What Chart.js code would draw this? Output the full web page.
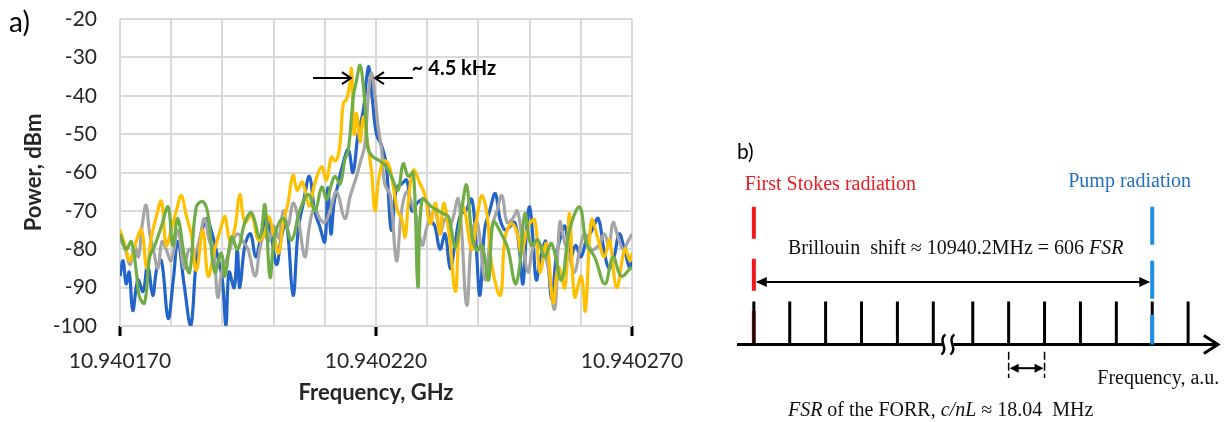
<!DOCTYPE html>
<html><head><meta charset="utf-8">
<script src="https://cdn.jsdelivr.net/npm/chart.js@4.4.0/dist/chart.umd.min.js"></script>
<style>
html,body{margin:0;padding:0;background:#fff;}
#wrap{position:relative;width:1224px;height:422px;overflow:hidden;background:#fff;}
#ca{position:absolute;left:0;top:0;}
#cb{position:absolute;left:700px;top:0;}
</style></head><body>
<div id="wrap">
<canvas id="ca" width="700" height="422"></canvas>
<canvas id="cb" width="524" height="422"></canvas>
</div>
<script>
// ---------- Panel a data (frequency offset in kHz from 10.940170 GHz, power in dBm) ----------
const xLabelKHz = [0, 50, 100];
const xTickLabels = ['10.940170', '10.940220', '10.940270'];
const yTitle = 'Power, dBm';
const xTitle = 'Frequency, GHz';

const blueFreq = [0,0.6,1.2,1.8,2.5,3.5,4.5,5.4,6.4,7.2,8.1,9.4,10.4,11.3,12.5,13.8,14.9,15.9,16.9,18,19.1,20,20.7,21.3,22.3,22.9,23.4,24.4,25.5,26.5,27.5,28.6,29.6,30.6,31.5,32.5,33.8,34.8,35.8,37,38,39,40,40.6,41.2,41.8,42.6,43.5,44.6,45.5,46.5,47.5,48.2,48.6,49.3,50.1,51.1,52,53,54,55,56,57,58,59.6,60.5,61.5,62.5,63.5,64.5,65.5,66.5,67.5,68.7,69.5,70.3,71.2,72.2,73.3,74.2,75.2,76.2,77.1,78,78.7,79.4,80,80.7,81.3,82.2,83.2,84.3,85.2,86,86.9,88,89,90,91,92.2,93.4,94.5,95.5,96.5,97.5,98.5,99.6,100];
const bluePower = [-87,-83,-89,-86,-96,-88,-91,-84,-92,-85,-83,-98,-88,-78,-89,-100,-83,-76,-72,-76,-82,-88,-100,-86,-90,-80,-90,-79,-76,-82,-77,-72,-77,-84,-77,-73,-92,-75,-68,-61,-70,-74,-78,-64,-76,-68,-63,-58,-54,-60,-50,-44,-35,-32.5,-41,-50,-53,-58,-75,-64,-63,-62,-70,-68,-67,-72,-74,-80,-76,-85,-78,-71,-70,-67,-78,-92,-75,-70,-65.5,-72,-75,-74,-73,-80,-89,-75,-69,-78,-88,-82,-78,-93,-82,-77,-74,-82,-79,-82,-78,-75,-72,-80,-85,-82,-76,-80,-85,-82];

const grayFreq = [0,1,2,2.8,3.6,4.3,5.1,5.8,6.5,7.4,8.2,9,10,11.3,12.5,13.5,14.6,15.6,16.5,17.5,18.3,19.1,20,21,22,23,24,25,26.4,27.3,28.2,29,30,31,31.9,32.8,33.8,34.8,36.1,37,38,39,40,41,42.3,43.9,45,46.2,47,47.8,48.5,49.1,49.8,50.4,51.1,51.7,52.8,54,55,56,57,58,59,60,61.5,62.5,63.5,64.5,66.1,67.7,68.8,69.8,71.3,72.5,73.6,74.6,75.6,76.7,77.6,78.6,79.7,80.6,81.6,82.5,83.5,84.9,85.9,86.8,87.8,88.8,89.8,90.8,92,93.5,94.6,95.5,96.3,97.3,98.3,99.2,100];
const grayPower = [-77,-80,-84,-79,-82,-74,-68.5,-76,-80,-85,-78,-80,-83,-75,-85,-80,-81,-77,-72,-78,-80,-92.5,-85,-82,-78,-76,-78,-80,-87,-80,-76,-78,-74,-77,-70,-74,-68,-72,-82,-74,-69,-72,-73,-70,-65,-72,-66,-61,-57,-53,-40,-34,-40,-48,-54,-63,-66,-83,-70,-65,-68,-72,-79,-74,-70,-76,-72,-74,-67,-94.5,-75,-73,-88,-75,-70,-66,-73,-72,-70,-78,-86,-80,-78,-80,-84,-95.5,-73,-78,-82,-86,-80,-76,-80,-79,-76,-79,-73,-77,-80,-78,-76];

const yellowFreq = [0,1,1.9,2.9,4.2,5.2,6.1,7,8.1,9,10,11,12,12.9,13.9,14.9,16.2,17.2,18.5,19.8,20.5,21.5,22.5,23.4,24.4,25.7,27,28.2,29,30,31,31.9,32.8,33.8,34.6,35.6,37,38,39.4,40.3,41.3,42,42.7,43.2,43.6,44.2,44.8,45.2,45.7,46.2,46.9,47.5,48.2,49.1,49.8,50.5,51.5,52.5,53.3,54.2,55,55.7,56.3,57.3,58.6,59.6,60.6,61.6,62.5,63.2,64.2,65.5,66.2,67.1,68.7,69.8,70.7,71.7,72.6,74.3,75.2,76.5,77.6,78.4,79.7,81,82,83.3,84.6,85.6,86.9,87.8,88.8,90.1,90.9,92.1,93.5,94.6,95.6,97,98.6,99.6,100];
const yellowPower = [-75,-79,-83,-79,-75,-85,-77,-72,-67.5,-79,-75,-70,-66,-71,-76,-85.5,-75,-87,-80,-74,-71.5,-78,-74,-65.7,-73,-71,-77.6,-76,-71.5,-76,-81,-73,-68,-60.7,-64.6,-62.5,-68.8,-63,-58.5,-62,-56,-57,-55,-49,-42,-41,-37.7,-33,-50,-44.6,-52,-45.5,-51,-59.4,-70,-62,-57,-58,-63,-70,-72,-76.8,-68,-59.4,-62.9,-66,-73.3,-68,-76,-68,-75,-91,-76,-69,-80,-71,-66,-71,-84,-92,-77,-73.3,-76,-81,-74,-72.4,-86,-78.5,-94,-84.6,-90,-70.7,-92.4,-87,-96,-72.4,-78,-82,-77.6,-90,-80,-83,-81];

const greenFreq = [0,1.2,2.2,3.2,3.8,4.8,5.8,6.8,8.1,9.4,10.3,11.3,12.6,13.6,14.9,16.2,17.2,18.5,19.8,20.5,21.8,23,24.4,25.7,27.3,28.3,29.3,30.3,31.9,33.5,35.1,36.8,38.1,39.4,40.4,41.3,42,43,43.9,44.6,45.6,46.2,46.9,47.5,48,48.5,49.5,50.8,52,53,54.3,55.3,56.3,57.3,58.2,59,60.9,62.2,63.5,64.2,65.5,66.8,67.7,68.7,69.7,70.7,72,72.9,74.5,75.8,77.2,78.1,79.1,80.3,81.6,82.9,84.3,86.2,87.8,89.8,91.1,92.7,94.7,96.3,97.9,99.9];
const greenPower = [-76,-80,-78,-86,-92.4,-94,-82,-79,-74,-69,-79,-72,-82,-86,-69,-67.6,-71,-86,-81,-87,-76.8,-80,-73,-70.5,-77,-68.4,-87.3,-76,-72,-77.6,-70,-65.7,-70,-63.8,-67,-63,-61,-63,-56.8,-54,-40,-36,-32,-37,-45.5,-54,-56,-57,-58.5,-61,-64.6,-57.7,-61,-60,-89.8,-67,-69,-70,-71,-71.6,-79.4,-69,-63.3,-76,-80.3,-79,-88,-73,-76,-80,-89,-84,-70.7,-79,-77.6,-82,-78.5,-88,-75,-69,-78.5,-82,-89,-82,-87,-84.6];

// ---------- Panel b data (schematic, frequency in FSR units, height in a.u.) ----------
const combPos = [0,1,2,3,4,5,6.1,7.1,8.1,9.1,10.1,11.1,12.1];
const combHeight = 1;
const stokesPos = 0;
const pumpPos = 11.1;
const radiationHeight = 3.2;
const fsrPair = [7.1, 8.1];

function pts(xs, ys){ const n = Math.min(xs.length, ys.length); const o=[]; for(let i=0;i<n;i++) o.push({x:xs[i], y:ys[i]}); return o; }

Chart.defaults.font.family = 'Lato';

function lineDs(label, xs, ys, color){
  return {label, data: pts(xs, ys), borderColor: color, backgroundColor: color, borderWidth: 3.2,
          pointRadius: 0, tension: 0.4, fill: false};
}

function arrowOpen(ctx, tipX, tipY, dir, len, half){
  ctx.beginPath();
  ctx.moveTo(tipX - dir*len, tipY - half);
  ctx.lineTo(tipX, tipY);
  ctx.lineTo(tipX - dir*len, tipY + half);
  ctx.stroke();
}
function arrowFilled(ctx, tipX, tipY, dir, len, half){
  ctx.beginPath();
  ctx.moveTo(tipX, tipY);
  ctx.lineTo(tipX - dir*len, tipY - half);
  ctx.lineTo(tipX - dir*len, tipY + half);
  ctx.closePath();
  ctx.fill();
}

const annotA = {
  id: 'annotA',
  afterDraw(chart){
    const {ctx, chartArea} = chart; const x = chart.scales.x, y = chart.scales.y;
    ctx.save();
    ctx.fillStyle = '#000'; ctx.strokeStyle = '#000';
    ctx.font = '28px Lato'; ctx.textAlign = 'left'; ctx.textBaseline = 'middle';
    ctx.fillText('a)', 9, 23);
    // axis titles
    ctx.font = 'bold 22px Lato'; ctx.textAlign = 'center'; ctx.fillStyle = '#262626';
    ctx.save(); ctx.translate(34, (chartArea.top + chartArea.bottom)/2); ctx.rotate(-Math.PI/2);
    ctx.fillText(yTitle, 0, 0); ctx.restore();
    ctx.fillText(xTitle, (chartArea.left + chartArea.right)/2, 393);
    // linewidth arrows
    const ay = y.getPixelForValue(-35.4);
    ctx.strokeStyle = '#000'; ctx.lineWidth = 2;
    ctx.beginPath(); ctx.moveTo(x.getPixelForValue(37.7), ay); ctx.lineTo(x.getPixelForValue(45.1), ay); ctx.stroke();
    arrowOpen(ctx, x.getPixelForValue(45.1), ay, 1, 9, 6);
    ctx.beginPath(); ctx.moveTo(x.getPixelForValue(57.2), ay); ctx.lineTo(x.getPixelForValue(49.8), ay); ctx.stroke();
    arrowOpen(ctx, x.getPixelForValue(49.8), ay, -1, 9, 6);
    ctx.fillStyle = '#000'; ctx.font = 'bold 20px Lato'; ctx.textAlign = 'left'; ctx.textBaseline = 'alphabetic';
    ctx.fillText('~ 4.5 kHz', x.getPixelForValue(57.0), y.getPixelForValue(-34.6));
    ctx.restore();
  }
};

new Chart(document.getElementById('ca'), {
  type: 'line',
  data: { datasets: [
    lineDs('Green', greenFreq, greenPower, '#70ad47'),
    lineDs('Yellow', yellowFreq, yellowPower, '#ffc000'),
    lineDs('Gray', grayFreq, grayPower, '#a5a5a5'),
    lineDs('Blue', blueFreq, bluePower, '#2264c8')
  ]},
  options: {
    responsive: false, animation: false,
    layout: { padding: { left: 0, top: 19, right: 68, bottom: 0 } },
    plugins: { legend: { display: false }, tooltip: { enabled: false } },
    scales: {
      x: { type: 'linear', min: 0, max: 100,
        afterFit: (s) => { s.height = 96; },
        border: { display: false },
        grid: { color: '#d9d9d9', lineWidth: 2, drawTicks: true, tickLength: 10, tickWidth: 3,
          tickColor: (c) => (c.tick && xLabelKHz.some(v => Math.abs(v - c.tick.value) < 1e-6)) ? '#000' : 'rgba(0,0,0,0)' },
        ticks: { stepSize: 10, autoSkip: false, maxRotation: 0, padding: 13, color: '#262626',
          font: { size: 21, family: 'Lato' },
          callback: (v) => { const i = xLabelKHz.findIndex(k => Math.abs(k - v) < 1e-6); return i >= 0 ? xTickLabels[i] : ''; } }
      },
      y: { min: -100, max: -20,
        afterFit: (s) => { s.width = 120; s.paddingTop = 0; s.paddingBottom = 0; },
        border: { display: false },
        grid: { color: '#d9d9d9', lineWidth: 2, drawTicks: false },
        ticks: { stepSize: 10, padding: 23, color: '#262626', font: { size: 21, family: 'Lato' } }
      }
    }
  },
  plugins: [annotA]
});

// ---------- Panel b ----------
const serif = 'Liberation Serif';
function drawRuns(ctx, runs, x0, yb, size){
  let x = x0;
  for (const r of runs){
    ctx.font = (r.i ? 'italic ' : '') + size + 'px "' + serif + '"';
    ctx.fillText(r.t, x, yb);
    x += ctx.measureText(r.t).width;
  }
}

const annotB = {
  id: 'annotB',
  afterDatasetsDraw(chart){
    const {ctx} = chart; const X = v => chart.scales.x.getPixelForValue(v), Y = v => chart.scales.y.getPixelForValue(v);
    ctx.save();
    // break squiggle on the axis
    const bx = X(5.42), by = Y(0);
    ctx.fillStyle = '#fff'; ctx.fillRect(bx - 5, by - 3, 10, 6);
    ctx.strokeStyle = '#000'; ctx.lineWidth = 2.5;
    for (const dx of [-5, 4]){
      ctx.beginPath();
      ctx.moveTo(bx + dx + 2, by - 10);
      ctx.bezierCurveTo(bx + dx - 6, by - 4, bx + dx + 6, by + 4, bx + dx - 2, by + 10);
      ctx.stroke();
    }
    // axis arrow head (open)
    ctx.lineWidth = 3; ctx.lineJoin = 'miter';
    arrowOpen(ctx, X(12.93), Y(0), 1, 14, 9);
    // Brillouin shift arrow heads
    ctx.fillStyle = '#000';
    arrowFilled(ctx, X(stokesPos) + 2, Y(1.45), -1, 11, 5);
    arrowFilled(ctx, X(pumpPos) - 2, Y(1.45), 1, 11, 5);
    // FSR arrow heads
    arrowFilled(ctx, X(fsrPair[0]) + 1, Y(-0.55), -1, 9, 4.5);
    arrowFilled(ctx, X(fsrPair[1]) - 1, Y(-0.55), 1, 9, 4.5);
    // texts
    ctx.textAlign = 'left';
    ctx.fillStyle = '#000'; ctx.font = '21px Lato'; ctx.textBaseline = 'middle';
    ctx.fillText('b)', X(-0.47), Y(4.47));
    ctx.textBaseline = 'alphabetic';
    ctx.fillStyle = '#ee1c24';
    drawRuns(ctx, [{t:'First Stokes radiation'}], X(-0.25), Y(3.59), 20);
    ctx.fillStyle = '#1f6fc5';
    drawRuns(ctx, [{t:'Pump radiation'}], X(8.76), Y(3.66), 20);
    ctx.fillStyle = '#111';
    drawRuns(ctx, [{t:'Brillouin  shift \u2248 10940.2MHz = 606 '}, {t:'FSR', i:true}], X(0.95), Y(2.10), 20);
    drawRuns(ctx, [{t:'Frequency, a.u.'}], X(9.57), Y(-0.92), 20);
    drawRuns(ctx, [{t:'FSR', i:true}, {t:' of the FORR, '}, {t:'c/nL', i:true}, {t:' \u2248 18.04  MHz'}], X(0.95), Y(-1.66), 20);
    ctx.restore();
  }
};

const combData = [];
combPos.forEach(u => { combData.push({x:u, y:0}, {x:u, y:combHeight}, {x:u, y:null}); });
const fsrData = [];
fsrPair.forEach(u => { fsrData.push({x:u, y:-0.17}, {x:u, y:-0.78}, {x:u, y:null}); });

new Chart(document.getElementById('cb'), {
  type: 'scatter',
  data: { datasets: [
    { label:'Pump', data:[{x:pumpPos, y:radiationHeight},{x:pumpPos, y:0}], showLine:true, borderColor:'#1b8fe3', borderWidth:4, borderDash:[38,16], pointRadius:0, order:0 },
    { label:'Comb', data: combData, showLine:true, spanGaps:false, borderColor:'#000', borderWidth:3, pointRadius:0, order:1 },
    { label:'Stokes', data:[{x:stokesPos, y:radiationHeight},{x:stokesPos, y:0}], showLine:true, borderColor:'#f01818', borderWidth:4, borderDash:[32,20], pointRadius:0, order:2 },
    { label:'Axis', data:[{x:-0.47, y:0},{x:12.9, y:0}], showLine:true, borderColor:'#000', borderWidth:3, pointRadius:0, order:3 },
    { label:'Shift', data:[{x:stokesPos+0.1, y:1.45},{x:pumpPos-0.1, y:1.45}], showLine:true, borderColor:'#000', borderWidth:2, pointRadius:0, order:4 },
    { label:'FSRmarks', data: fsrData, showLine:true, spanGaps:false, borderColor:'#000', borderWidth:1.5, borderDash:[8,3], pointRadius:0, order:5 },
    { label:'FSRarrow', data:[{x:fsrPair[0]+0.1, y:-0.55},{x:fsrPair[1]-0.1, y:-0.55}], showLine:true, borderColor:'#000', borderWidth:2, pointRadius:0, order:6 }
  ]},
  options: {
    responsive: false, animation: false,
    layout: { padding: 0 },
    plugins: { legend: { display: false }, tooltip: { enabled: false } },
    elements: { line: { tension: 0 } },
    scales: {
      x: { type:'linear', min:-1.5, max:13.1, display:false },
      y: { type:'linear', min:-1.8, max:8, display:false }
    }
  },
  plugins: [annotB]
});
</script>
</body></html>
